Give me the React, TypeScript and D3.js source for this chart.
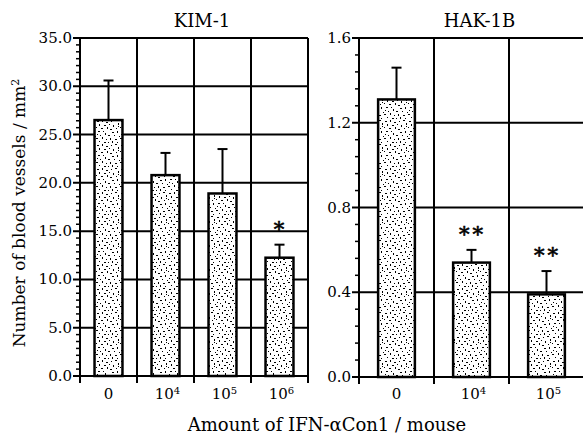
import React from "react";
import * as d3 from "d3";

// dose labels ("10^4" = ten to the fourth)
const kimDoses = ["0", "10^4", "10^5", "10^6"];
const kimMeans = [26.5, 20.8, 18.9, 12.25];
const kimErrors = [4.1, 2.3, 4.6, 1.35];
const kimSig = ["", "", "", "*"];
const kimTicks = [0, 5, 10, 15, 20, 25, 30, 35];

const hakDoses = ["0", "10^4", "10^5"];
const hakMeans = [1.31, 0.54, 0.39];
const hakErrors = [0.15, 0.06, 0.11];
const hakSig = ["", "**", "**"];
const hakTicks = [0, 0.4, 0.8, 1.2, 1.6];

const FONT = "DejaVu Serif";

// fixed speckle layout for the bar texture (x, y, w, h) in a 24px tile
const specks = [
  [1, 1, 2, 1], [6, 0, 1, 2], [10, 2, 2, 1], [15, 1, 1, 1], [19, 0, 2, 1], [22, 3, 1, 2],
  [3, 4, 1, 2], [8, 5, 2, 1], [13, 4, 1, 1], [17, 5, 1, 2], [0, 7, 1, 1], [5, 8, 2, 1],
  [11, 7, 1, 2], [14, 9, 2, 1], [20, 8, 1, 1], [2, 11, 2, 1], [7, 11, 1, 1], [9, 13, 1, 2],
  [16, 12, 2, 1], [21, 11, 1, 2], [4, 15, 1, 1], [12, 15, 2, 1], [18, 15, 1, 1], [23, 16, 1, 1],
  [0, 18, 2, 1], [6, 17, 1, 2], [10, 19, 1, 1], [14, 18, 1, 2], [19, 19, 2, 1], [3, 21, 1, 1],
  [8, 22, 2, 1], [12, 22, 1, 1], [16, 21, 1, 2], [21, 22, 1, 1], [1, 14, 1, 1], [22, 6, 1, 1],
];

function DoseLabel({ label, x, y }) {
  if (!label.includes("^")) {
    return (
      <text x={x} y={y} textAnchor="middle" fontSize={15} fontFamily={FONT}>
        {label}
      </text>
    );
  }
  const [base, exp] = label.split("^");
  return (
    <text x={x + 2} y={y} textAnchor="middle" fontSize={15} fontFamily={FONT}>
      {base}
      <tspan fontSize={10} dy={-5}>{exp}</tspan>
    </text>
  );
}

function Panel({ title, doses, means, errors, sig, ticks, minorCount, x0, x1, top, bottom }) {
  const max = ticks[ticks.length - 1];
  const x = d3.scaleBand().domain(doses).range([x0, x1]);
  const y = d3.scaleLinear().domain([0, max]).range([bottom, top]);
  const bw = x.bandwidth() * 0.49;
  const step = ticks[1] - ticks[0];
  const minors = [];
  for (let i = 0; i < ticks.length - 1; i++) {
    for (let k = 1; k <= minorCount; k++) {
      minors.push(ticks[i] + (step * k) / (minorCount + 1));
    }
  }
  const bounds = doses.map((d) => x(d)).concat([x1]);
  const fmt = d3.format(".1f");

  return (
    <g>
      <text x={(x0 + x1) / 2 + 8} y={27} textAnchor="middle" fontSize={18} fontFamily={FONT}>
        {title}
      </text>
      {/* horizontal grid */}
      {ticks.map((t) => (
        <line key={"h" + t} x1={x0 - 7} x2={x1} y1={y(t)} y2={y(t)} stroke="#000" strokeWidth={2} />
      ))}
      {/* vertical grid / category bounds */}
      {bounds.map((b, i) => (
        <line key={"v" + i} x1={b} x2={b} y1={top} y2={bottom + 7} stroke="#000" strokeWidth={2} />
      ))}
      {minors.map((m, i) => (
        <line key={"m" + i} x1={x0 - 4} x2={x0} y1={y(m)} y2={y(m)} stroke="#000" strokeWidth={1.5} />
      ))}
      {ticks.map((t) => (
        <text key={"t" + t} x={x0 - 8} y={y(t) + 5} textAnchor="end" fontSize={15} fontFamily={FONT}>
          {fmt(t)}
        </text>
      ))}
      {doses.map((d, i) => {
        const cx = x(d) + x.bandwidth() / 2;
        const errTop = y(means[i] + errors[i]);
        return (
          <g key={d}>
            <line x1={cx} x2={cx} y1={y(means[i])} y2={errTop} stroke="#000" strokeWidth={2} />
            <line x1={cx - 5} x2={cx + 5} y1={errTop} y2={errTop} stroke="#000" strokeWidth={2} />
            <rect
              x={cx - bw / 2}
              y={y(means[i])}
              width={bw}
              height={bottom - y(means[i])}
              fill="url(#speckle)"
              stroke="#000"
              strokeWidth={2.5}
            />
            {sig[i] && (
              <text
                x={cx + 1}
                y={errTop - 22 + 13}
                textAnchor="middle"
                fontSize={21}
                fontFamily={FONT}
                stroke="#000"
                strokeWidth={0.6}
                letterSpacing={3}
              >
                {sig[i]}
              </text>
            )}
            <DoseLabel label={d} x={cx} y={399} />
          </g>
        );
      })}
    </g>
  );
}

export default function App() {
  return (
    <svg width={583} height={438} style={{ position: "absolute", left: 0, top: 0, background: "#fff" }}>
      <defs>
        <pattern id="speckle" width={24} height={24} patternUnits="userSpaceOnUse">
          <rect width={24} height={24} fill="#fff" />
          {specks.map((s, i) => (
            <rect key={i} x={s[0]} y={s[1]} width={s[2]} height={s[3]} fill="#000" />
          ))}
        </pattern>
      </defs>
      <rect width={583} height={438} fill="#fff" />
      <Panel
        title="KIM-1"
        doses={kimDoses}
        means={kimMeans}
        errors={kimErrors}
        sig={kimSig}
        ticks={kimTicks}
        minorCount={6}
        x0={80}
        x1={308}
        top={38}
        bottom={376}
      />
      <Panel
        title="HAK-1B"
        doses={hakDoses}
        means={hakMeans}
        errors={hakErrors}
        sig={hakSig}
        ticks={hakTicks}
        minorCount={4}
        x0={359}
        x1={584}
        top={38}
        bottom={377}
      />
      <text
        transform="translate(25,213) rotate(-90)"
        textAnchor="middle"
        fontSize={17}
        fontFamily={FONT}
      >
        Number of blood vessels / mm<tspan fontSize={11} dy={-6}>2</tspan>
      </text>
      <text x={327} y={431} textAnchor="middle" fontSize={18} fontFamily={FONT}>
        Amount of IFN-αCon1 / mouse
      </text>
    </svg>
  );
}
